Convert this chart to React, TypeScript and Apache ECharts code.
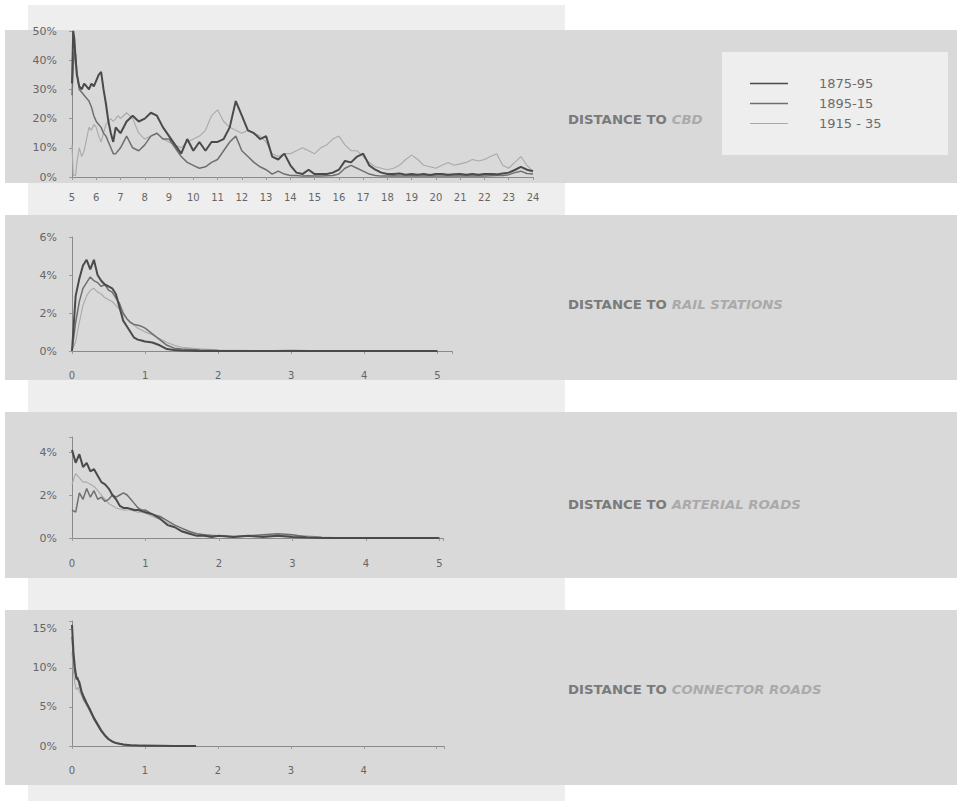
import React, { useEffect, useRef } from "react";
import * as echarts from "echarts";

// ---------- legend / series names ----------
const seriesNames = ["1875-95", "1895-15", "1915 - 35"];

// ---------- Chart 1 : distance to CBD ----------
const cbdX = [
  5.0, 5.05, 5.1, 5.15, 5.2, 5.3, 5.4, 5.5, 5.6, 5.7, 5.8, 5.9, 6.0, 6.1, 6.2, 6.3, 6.4, 6.5, 6.6, 6.7, 6.8, 6.9, 7.0,
  7.25, 7.5, 7.75, 8.0, 8.25, 8.5, 8.75, 9.0, 9.25, 9.5, 9.75, 10.0, 10.25, 10.5, 10.75, 11.0, 11.25, 11.5, 11.75,
  12.0, 12.25, 12.5, 12.75, 13.0, 13.25, 13.5, 13.75, 14.0, 14.25, 14.5, 14.75, 15.0, 15.25, 15.5, 15.75, 16.0,
  16.25, 16.5, 16.75, 17.0, 17.25, 17.5, 17.75, 18.0, 18.25, 18.5, 18.75, 19.0, 19.25, 19.5, 19.75, 20.0, 20.25,
  20.5, 20.75, 21.0, 21.25, 21.5, 21.75, 22.0, 22.25, 22.5, 22.75, 23.0, 23.25, 23.5, 23.75, 24.0,
];
const cbd1875 = [
  32, 50, 47, 40, 35, 31, 30, 32, 31, 30, 32, 31, 33, 35, 36, 30, 25, 19, 15, 12, 17, 16, 15,
  19, 21, 19, 20, 22, 21, 17, 14, 11, 8, 13, 9, 12, 9, 12, 12, 13, 17, 26,
  21, 16, 15, 13, 14, 7, 6, 8, 4, 1.5, 1, 2.5, 1, 1, 1, 1.5, 2.5,
  5.5, 5, 7, 8, 4, 2.5, 1.5, 1, 1, 1.2, 0.8, 1, 0.8, 1, 0.7, 1, 1,
  0.8, 0.9, 1, 0.8, 1, 0.8, 1, 1, 0.9, 1.2, 1.5, 2.4, 3.5, 2.5, 2,
];
const cbd1895 = [
  28, 38, 43, 42, 36, 30, 29, 28, 27, 26, 24, 21, 19, 18, 17, 15, 14, 12, 10, 8, 8, 9, 10,
  14, 10, 9, 11, 14, 15, 13, 13, 10, 7, 5, 4, 3, 3.5, 5, 6, 9, 12, 14,
  9, 7, 5, 3.5, 2.5, 1, 2, 1, 0.5, 0.5, 0.3, 0.4, 0.3, 0.3, 0.4, 0.5, 1,
  3, 4, 3, 2, 1, 0.5, 0.3, 0.3, 0.4, 0.3, 0.3, 0.4, 0.3, 0.3, 0.4, 0.3, 0.3,
  0.4, 0.3, 0.3, 0.4, 0.3, 0.4, 0.3, 0.4, 0.5, 0.5, 0.8, 1.5, 2, 1.2, 1,
];
const cbd1915 = [
  11, 1, 0.5, 0.5, 5, 10, 7, 9, 13, 17, 16, 18, 17, 14, 12, 15, 18, 19, 20, 19, 20, 21, 20,
  22, 20, 15, 13, 14, 15, 13, 12, 11, 10, 12, 13, 14, 16, 21, 23, 19, 17, 16,
  15, 16, 15, 14, 12, 8, 7, 8, 8, 9, 10, 9, 8, 10, 11, 13, 14,
  11, 9, 9, 7, 5, 3.5, 3, 2.5, 3, 4, 6, 7.5, 6, 4, 3.5, 3, 4,
  5, 4, 4.5, 5, 6, 5.5, 6, 7, 8, 4, 3, 5, 7, 4, 2,
];

// ---------- Chart 2 : distance to rail stations ----------
const railX = [
  0, 0.05, 0.1, 0.15, 0.2, 0.25, 0.3, 0.35, 0.4, 0.45, 0.5, 0.55, 0.6, 0.65, 0.7, 0.75, 0.8, 0.85, 0.9, 0.95,
  1.0, 1.1, 1.2, 1.3, 1.4, 1.5, 1.75, 2.0, 2.5, 3.0, 3.5, 4.0, 4.5, 5.0,
];
const rail1875 = [
  0, 2.9, 3.8, 4.5, 4.8, 4.3, 4.8, 4.0, 3.7, 3.5, 3.4, 3.3, 3.0, 2.3, 1.6, 1.3, 1.0, 0.7, 0.6, 0.55,
  0.5, 0.45, 0.3, 0.1, 0.05, 0.02, 0, 0, 0, 0, 0, 0, 0, 0,
];
const rail1895 = [
  0, 1.5, 2.6, 3.3, 3.6, 3.9, 3.7, 3.6, 3.4, 3.5, 3.2, 3.1, 2.8, 2.5, 2.0, 1.7, 1.5, 1.4, 1.35, 1.3,
  1.2, 0.9, 0.6, 0.3, 0.15, 0.1, 0.05, 0.02, 0, 0.03, 0, 0, 0, 0,
];
const rail1915 = [
  0, 0.5, 1.5, 2.4, 2.9, 3.2, 3.3, 3.1, 3.0, 2.8, 2.7, 2.6, 2.4, 2.2, 1.9, 1.7, 1.5, 1.35, 1.2, 1.1,
  1.0, 0.85, 0.65, 0.45, 0.3, 0.2, 0.12, 0.05, 0.02, 0.02, 0, 0, 0, 0,
];

// ---------- Chart 3 : distance to arterial roads ----------
const artX = [
  0, 0.05, 0.1, 0.15, 0.2, 0.25, 0.3, 0.35, 0.4, 0.45, 0.5, 0.55, 0.6, 0.65, 0.7, 0.75, 0.8, 0.85, 0.9, 0.95,
  1.0, 1.1, 1.2, 1.3, 1.4, 1.5, 1.6, 1.7, 1.8, 1.9, 2.0, 2.2, 2.4, 2.6, 2.8, 3.0, 3.2, 3.4, 3.6, 4.0, 4.5, 5.0,
];
const art1875 = [
  4.1, 3.5, 3.9, 3.3, 3.5, 3.1, 3.2, 2.9, 2.6, 2.5, 2.3, 2.0, 1.8, 1.5, 1.4, 1.4, 1.35, 1.3, 1.3, 1.25,
  1.2, 1.1, 0.9, 0.6, 0.5, 0.3, 0.2, 0.1, 0.1, 0.05, 0.1, 0.05, 0.1, 0.05, 0.1, 0.05, 0.02, 0, 0, 0, 0, 0,
];
const art1895 = [
  1.3, 1.2, 2.1, 1.8, 2.3, 1.9, 2.2, 1.8, 1.9, 1.7, 1.8, 2.0, 1.9, 2.0, 2.1, 2.0, 1.8, 1.6, 1.4, 1.3,
  1.3, 1.1, 1.0, 0.8, 0.6, 0.45, 0.3, 0.2, 0.15, 0.1, 0.1, 0.05, 0.1, 0.15, 0.2, 0.15, 0.05, 0.02, 0, 0, 0, 0,
];
const art1915 = [
  2.5, 3.0, 2.8, 2.6, 2.6, 2.5, 2.4, 2.2, 2.0, 1.8, 1.6, 1.5, 1.4, 1.35, 1.3, 1.3, 1.3, 1.25, 1.2, 1.2,
  1.15, 1.0, 0.85, 0.7, 0.5, 0.35, 0.25, 0.2, 0.15, 0.15, 0.1, 0.1, 0.1, 0.1, 0.15, 0.1, 0.1, 0.05, 0.02, 0, 0, 0,
];

// ---------- Chart 4 : distance to connector roads ----------
const conX = [
  0, 0.02, 0.04, 0.06, 0.08, 0.1, 0.13, 0.16, 0.2, 0.25, 0.3, 0.35, 0.4, 0.45, 0.5, 0.55, 0.6, 0.7, 0.8, 0.9,
  1.0, 1.2, 1.4, 1.6, 1.7,
];
const con1875 = [
  15.5, 12, 10, 8.8, 8.5, 8.2, 7, 6.3, 5.5, 4.6, 3.6, 2.8, 2.0, 1.4, 0.9, 0.6, 0.4, 0.2, 0.1, 0.05,
  0.03, 0.02, 0, 0, 0,
];
const con1895 = [
  14, 11, 9.5, 8.5, 8.8, 7.8, 6.8, 6.0, 5.4, 4.4, 3.5, 2.7, 1.9, 1.3, 0.85, 0.55, 0.35, 0.2, 0.1, 0.06,
  0.05, 0.03, 0.02, 0.01, 0,
];
const con1915 = [
  12, 9.5, 8, 7.2, 7.5, 7.0, 6.5, 5.8, 5.2, 4.5, 3.3, 2.6, 1.9, 1.4, 0.95, 0.6, 0.4, 0.25, 0.15, 0.1,
  0.08, 0.05, 0.05, 0.03, 0,
];

// ---------- titles ----------
const titleParts = ["CBD", "RAIL STATIONS", "ARTERIAL ROADS", "CONNECTOR ROADS"];

const FONT = "DejaVu Sans";
const lineColors = ["#4a4a4a", "#6f6f6f", "#a9a9a9"];
const lineWidths = [2, 1.5, 1.1];
const legendThickness = [1.6, 1.4, 1.1];

export default function App() {
  const ref = useRef<HTMLDivElement>(null);

  useEffect(() => {
    if (!ref.current) return;
    const chart = echarts.init(ref.current, undefined, { renderer: "svg" });

    const panels = [
      { xs: cbdX, ys: [cbd1875, cbd1895, cbd1915] },
      { xs: railX, ys: [rail1875, rail1895, rail1915] },
      { xs: artX, ys: [art1875, art1895, art1915] },
      { xs: conX, ys: [con1875, con1895, con1915] },
    ];

    const grids = [
      { left: 72, top: 31, width: 461, height: 146 },
      { left: 72, top: 237, width: 380, height: 114 },
      { left: 72, top: 437, width: 371, height: 101 },
      { left: 72, top: 621, width: 372, height: 125 },
    ];

    const axisLineStyle = { color: "#8a8a8a", width: 1 };
    const labelBase = { color: "#666", fontFamily: FONT, fontSize: 10 };

    const intLabel = (limit: number) => (v: number) =>
      Number.isInteger(v) && v <= limit ? String(v) : "";

    const xAxes = [
      { min: 5, max: 24, interval: 1, margin: 15, fmt: intLabel(24) },
      { min: 0, max: 5.2, interval: 1, margin: 19, fmt: intLabel(5) },
      { min: 0, max: 5.05, interval: 1, margin: 20, fmt: intLabel(5) },
      { min: 0, max: 5.1, interval: 1, margin: 19, fmt: intLabel(4) },
    ].map((a, i) => ({
      type: "value",
      gridIndex: i,
      min: a.min,
      max: a.max,
      interval: a.interval,
      splitLine: { show: false },
      axisLine: { show: true, lineStyle: axisLineStyle },
      axisTick: { show: true, length: 3, lineStyle: { color: "#9a9a9a" } },
      axisLabel: { ...labelBase, margin: a.margin, formatter: a.fmt, showMaxLabel: true },
    }));

    const yAxes = [
      { max: 50, interval: 10 },
      { max: 6, interval: 2 },
      { max: 4.7, interval: 2 },
      { max: 16, interval: 5 },
    ].map((a, i) => ({
      type: "value",
      gridIndex: i,
      min: 0,
      max: a.max,
      interval: a.interval,
      splitLine: { show: false },
      axisLine: { show: true, lineStyle: axisLineStyle },
      axisTick: { show: true, length: 3, lineStyle: { color: "#9a9a9a" } },
      axisLabel: {
        ...labelBase,
        fontSize: 11,
        margin: 15,
        formatter: (v: number) => (v % a.interval === 0 ? v + "%" : ""),
      },
    }));

    const series: any[] = [];
    panels.forEach((p, gi) => {
      // draw light first so darker lines sit on top
      [2, 1, 0].forEach((si) => {
        series.push({
          type: "line",
          name: seriesNames[si],
          xAxisIndex: gi,
          yAxisIndex: gi,
          symbol: "none",
          data: p.xs.map((x, k) => [x, p.ys[si][k]]),
          lineStyle: { color: lineColors[si], width: lineWidths[si] },
          itemStyle: { color: lineColors[si] },
          z: 3 + (2 - si),
        });
      });
    });

    const titleYs = [120, 305, 505, 690];
    const bg = (x: number, y: number, w: number, h: number, fill: string, z: number) => ({
      type: "rect",
      z,
      silent: true,
      shape: { x, y, width: w, height: h },
      style: { fill },
    });

    const graphicElements: any[] = [
      bg(28, 5, 537, 796, "#eeeeee", -20),
      bg(5, 30, 952, 153, "#d9d9d9", -15),
      bg(5, 215, 952, 165, "#d9d9d9", -15),
      bg(5, 412, 952, 166, "#d9d9d9", -15),
      bg(5, 610, 952, 175, "#d9d9d9", -15),
      bg(722, 52, 226, 103, "#eeeeee", -10),
      ...titleParts.map((t, i) => ({
        type: "text",
        x: 568,
        y: titleYs[i],
        scaleX: 1.11,
        z: 10,
        silent: true,
        style: {
          text: "{a|DISTANCE TO }{b|" + t + "}",
          verticalAlign: "middle",
          align: "left",
          rich: {
            a: {
              fill: "#7a7a7a",
              color: "#7a7a7a",
              fontFamily: FONT,
              fontSize: 12,
              fontWeight: "bold",
            },
            b: {
              fill: "#aaaaaa",
              color: "#aaaaaa",
              fontFamily: FONT,
              fontSize: 12,
              fontWeight: "bold",
              fontStyle: "italic",
            },
          },
        },
      })),
    ];

    // legend icons: a horizontal stroke of given thickness inside a 38x10 box
    const legendIcon = (h: number) =>
      "path://M0,0 L0.01,0 L0,0.01 Z M0,10 L0.01,10 L0,9.99 Z M0," +
      (5 - h / 2) + " L38," + (5 - h / 2) + " L38," + (5 + h / 2) + " L0," + (5 + h / 2) + " Z";

    chart.setOption({
      animation: false,
      backgroundColor: "#ffffff",
      legend: {
        data: seriesNames.map((n, i) => ({
          name: n,
          icon: legendIcon(legendThickness[i]),
          itemStyle: { color: lineColors[i] },
        })),
        orient: "vertical",
        left: 745,
        top: 72,
        itemWidth: 38,
        itemHeight: 10,
        itemGap: 7,
        selectedMode: false,
        textStyle: {
          color: "#6b6b6b",
          fontFamily: FONT,
          fontSize: 13,
          padding: [0, 0, 0, 26],
        },
      },
      grid: grids,
      xAxis: xAxes,
      yAxis: yAxes,
      series,
      graphic: { elements: graphicElements },
    });

    return () => chart.dispose();
  }, []);

  return (
    <div
      ref={ref}
      style={{ position: "fixed", left: 0, top: 0, width: 959, height: 801, background: "#fff" }}
    />
  );
}
